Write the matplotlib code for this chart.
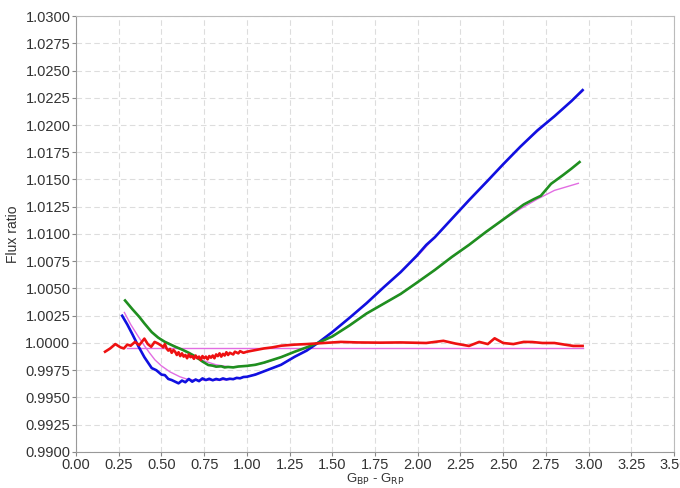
import numpy as np
import matplotlib
matplotlib.use('Agg')
import matplotlib.pyplot as plt

plt.rcParams['font.family'] = ['Liberation Sans', 'DejaVu Sans']

# 蓝线
blue_x = [0.27, 0.30, 0.33, 0.365, 0.40, 0.443, 0.47, 0.50, 0.52, 0.54, 0.56, 0.58, 0.60,
          0.62, 0.64, 0.66, 0.68, 0.70, 0.72, 0.74, 0.76, 0.78, 0.80, 0.82, 0.84, 0.86,
          0.88, 0.90, 0.92, 0.94, 0.96, 0.98, 1.00, 1.05, 1.10, 1.15, 1.20, 1.28, 1.35,
          1.415, 1.50, 1.60, 1.70, 1.80, 1.90, 1.994, 2.05, 2.10, 2.20, 2.30, 2.41, 2.50,
          2.60, 2.70, 2.80, 2.90, 2.965]
blue_y = [1.0025, 1.0017, 1.0008, 0.9997, 0.9987, 0.9977, 0.9975, 0.9971, 0.99705, 0.9967,
          0.9966, 0.99645, 0.9963, 0.99655, 0.9964, 0.9967, 0.99645, 0.99665, 0.9965,
          0.99675, 0.9966, 0.99672, 0.99658, 0.9967, 0.99662, 0.99675, 0.99665, 0.99672,
          0.99668, 0.9968, 0.99676, 0.99688, 0.9969, 0.9971, 0.9974, 0.9977, 0.9980,
          0.99874, 0.9993, 1.0000, 1.0010, 1.0023, 1.00364, 1.0051, 1.0065, 1.0080, 1.0090,
          1.0097, 1.0114, 1.0131, 1.0149, 1.0164, 1.0180, 1.0195, 1.0208, 1.0222, 1.0232]

# 绿线
green_x = [0.287, 0.33, 0.37, 0.40, 0.443, 0.48, 0.52, 0.58, 0.62, 0.66, 0.70, 0.74, 0.774,
           0.80, 0.82, 0.85, 0.87, 0.89, 0.92, 0.95, 1.00, 1.05, 1.10, 1.15, 1.20, 1.28,
           1.35, 1.415, 1.50, 1.60, 1.70, 1.80, 1.90, 1.992, 2.10, 2.20, 2.30, 2.40, 2.48,
           2.55, 2.62, 2.68, 2.72, 2.78, 2.85, 2.90, 2.947]
green_y = [1.0039, 1.0031, 1.0024, 1.0018, 1.0010, 1.0005, 1.0001, 0.99966, 0.9994, 0.9991,
           0.99875, 0.9983, 0.99798, 0.99792, 0.99783, 0.99786, 0.99776, 0.9978, 0.99776,
           0.99784, 0.9979, 0.9980, 0.9982, 0.99845, 0.9987, 0.9992, 0.9996, 1.0000, 1.0006,
           1.0016, 1.0027, 1.0036, 1.0045, 1.0055, 1.0067, 1.0079, 1.0090, 1.0102, 1.0111,
           1.0119, 1.0127, 1.0132, 1.0135, 1.0146, 1.0154, 1.0160, 1.0166]

# 红线
red_x = [0.17, 0.20, 0.23, 0.26, 0.28, 0.30, 0.32, 0.345, 0.37, 0.40, 0.42, 0.44, 0.46, 0.48,
         0.50, 0.51, 0.52, 0.53, 0.54, 0.55, 0.56, 0.57, 0.58, 0.59, 0.60, 0.61, 0.62, 0.63,
         0.64, 0.65, 0.66, 0.67, 0.68, 0.69, 0.70, 0.71, 0.72, 0.73, 0.74, 0.75, 0.76, 0.77,
         0.78, 0.79, 0.80, 0.81, 0.82, 0.83, 0.84, 0.85, 0.86, 0.87, 0.88, 0.89, 0.90, 0.92,
         0.93, 0.95, 0.96, 0.98, 1.00, 1.05, 1.10, 1.15, 1.20,
         1.28, 1.35, 1.45, 1.55, 1.65, 1.78, 1.90, 2.05, 2.15, 2.22, 2.30, 2.36, 2.41, 2.45,
         2.50, 2.56, 2.62, 2.67, 2.73, 2.80, 2.86, 2.91, 2.965]
red_y = [0.9992, 0.9995, 0.9999, 0.9996, 0.9995, 0.99985, 0.99975, 1.0001, 0.9998, 1.0004,
         0.9999, 0.99965, 1.0001, 0.99995, 0.99975, 0.9996, 0.9999, 0.9995, 0.9993, 0.99945,
         0.9991, 0.99935, 0.9992, 0.9989, 0.99915, 0.9988, 0.99905, 0.99875, 0.9989, 0.9986,
         0.99895, 0.9987, 0.9988, 0.99855, 0.99885, 0.9986, 0.99875, 0.99845, 0.9988, 0.9986,
         0.99875, 0.9985, 0.9988, 0.99865, 0.99885, 0.9986, 0.99895, 0.9988, 0.99905, 0.99875,
         0.999, 0.99885, 0.99915, 0.9989, 0.9991, 0.99895, 0.9992, 0.99905, 0.99925, 0.9991,
         0.9992, 0.99935, 0.9995, 0.9996, 0.99975,
         0.99985, 0.9999, 1.0000, 1.0001, 1.00005, 1.00003, 1.00005, 1.0000, 1.0002, 0.99995,
         0.99973, 1.0001, 0.9999, 1.00043, 1.0000, 0.9999, 1.0001, 1.00009, 1.0000, 1.0000,
         0.99985, 0.99973, 0.99973]

# 粉色拟合线
fit_b_x = [0.283, 0.32, 0.36, 0.40, 0.43, 0.462, 0.50, 0.55, 0.608, 0.65, 0.70, 0.80, 0.90,
           1.00, 1.10, 1.20, 1.30, 1.415, 1.60, 1.80, 2.00, 2.20, 2.40, 2.60, 2.80, 2.965]
fit_b_y = [1.0028, 1.0017, 1.0007, 0.99975, 0.9991, 0.99845, 0.9979, 0.99735, 0.9969, 0.99668,
           0.9966, 0.99658, 0.99665, 0.9969, 0.9974, 0.9980, 0.9989, 1.0000, 1.0023, 1.0051,
           1.0080, 1.0114, 1.0147, 1.0180, 1.0208, 1.0231]
fit_g_x = [0.287, 0.33, 0.37, 0.40, 0.443, 0.50, 0.58, 0.66, 0.74, 0.82, 0.90, 1.00, 1.10,
           1.20, 1.30, 1.415, 1.50, 1.70, 1.90, 2.10, 2.30, 2.50, 2.60, 2.70, 2.80, 2.94]
fit_g_y = [1.0039, 1.0031, 1.0024, 1.0018, 1.0010, 1.0003, 0.9997, 0.9991, 0.9984, 0.9980,
           0.9978, 0.9979, 0.99815, 0.9987, 0.9993, 1.0000, 1.0006, 1.0027, 1.0045, 1.0067,
           1.0090, 1.0113, 1.0123, 1.0132, 1.0140, 1.01465]
flat_x = [0.30, 2.965]
flat_y = [0.99952, 0.99952]

fig = plt.figure(figsize=(6.8, 4.88), dpi=100)
ax = fig.add_axes([0.1118, 0.0738, 0.8794, 0.8934])

pink = '#e26de2'
ax.plot(fit_b_x, fit_b_y, color=pink, lw=1.0, zorder=2)
ax.plot(fit_g_x, fit_g_y, color=pink, lw=1.0, zorder=2)
ax.plot(flat_x, flat_y, color=pink, lw=1.0, zorder=2)
ax.plot(blue_x, blue_y, color='#1010e0', lw=1.9, zorder=3)
ax.plot(green_x, green_y, color='#1f8f1f', lw=1.9, zorder=3)
ax.plot(red_x, red_y, color='#ee1111', lw=1.9, zorder=4)

ax.set_xlim(0, 3.5)
ax.set_ylim(0.99, 1.03)
xt = np.arange(0, 3.51, 0.25)
yt = np.arange(0.99, 1.03001, 0.0025)
ax.set_xticks(xt)
ax.set_xticklabels([f'{v:.2f}' for v in xt])
ax.set_yticks(yt)
ax.set_yticklabels([f'{v:.4f}' for v in yt])
ax.tick_params(labelsize=10.5, colors='#888888', labelcolor='#333333', length=3, width=0.8, pad=1)

ax.grid(True, color='#dddddd', linestyle=(0, (5, 3)), linewidth=0.8)
for side in ['left', 'bottom']:
    ax.spines[side].set_color('#999999')
for side in ['top', 'right']:
    ax.spines[side].set_color('#bbbbbb')

ax.set_xlabel(r'G$_{\rm BP}$ - G$_{\rm RP}$', fontsize=9.5, color='#333333', labelpad=0)
ax.set_ylabel('Flux ratio', fontsize=10, color='#333333', labelpad=4)

fig.savefig('out.png', dpi=100)
